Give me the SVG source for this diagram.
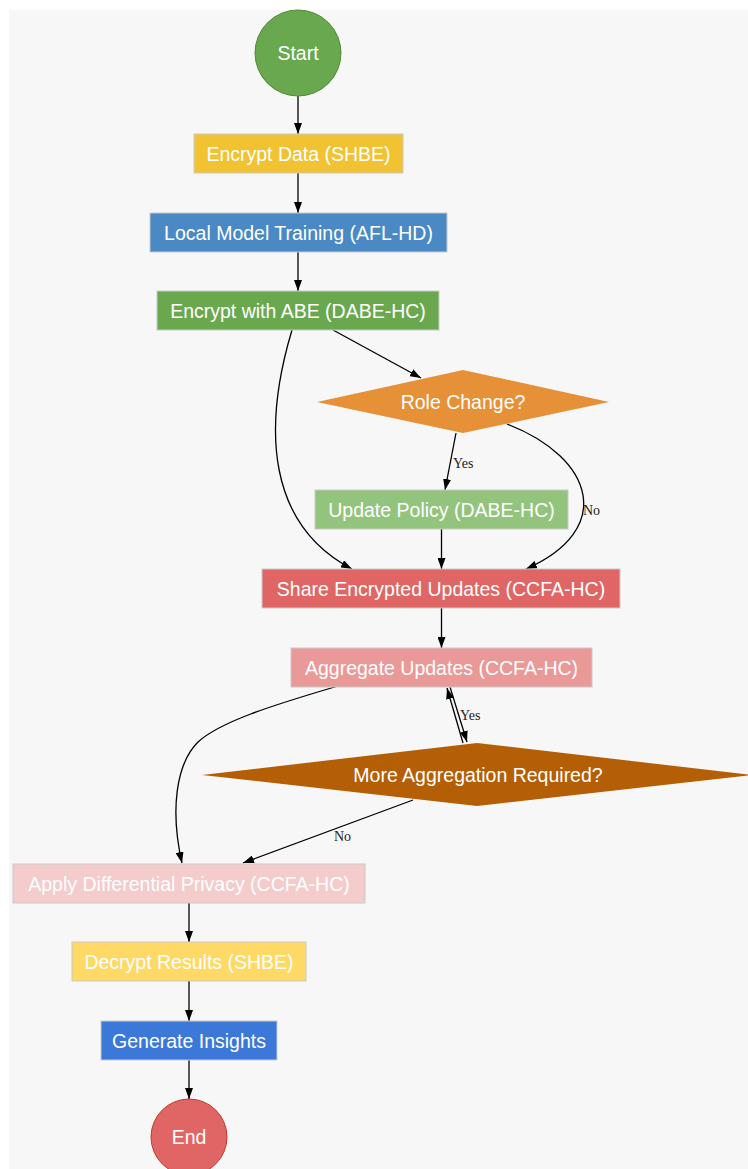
<svg xmlns="http://www.w3.org/2000/svg" width="748" height="1169" viewBox="0 0 748 1169">
<defs>
<marker id="arr" markerUnits="userSpaceOnUse" markerWidth="11" markerHeight="8" refX="11" refY="4" orient="auto">
<path d="M0,0 L11,4 L0,8 z" fill="#000"/>
</marker>
<style>
.n{font-family:"Liberation Sans",Arial,sans-serif;font-size:19.5px;fill:#fff;text-anchor:middle;dominant-baseline:central}
.box{stroke:#c9c9c9;stroke-width:1}
.e{fill:none;stroke:#000;stroke-width:1.3;marker-end:url(#arr)}
.lbl{font-family:"Liberation Serif","Times New Roman",serif;font-size:14px;fill:#222}
</style>
</defs>
<rect x="0" y="0" width="748" height="1169" fill="#fff"/>
<rect x="9" y="10" width="739" height="1159" fill="#f7f7f7"/>
<g id="connectors">
<path class="e" d="M298,96 L298,134"/>
<path class="e" d="M298,173 L298,213"/>
<path class="e" d="M298,252 L298,291"/>
<path class="e" d="M333,330 L421,378"/>
<path class="e" d="M292,330 C262,430 268,525 352,569"/>
<path class="e" d="M456,433 L445,490"/>
<text class="lbl" x="453" y="468">Yes</text>
<path class="e" d="M507,424 C595,458 615,530 526,569"/>
<text class="lbl" x="583" y="515">No</text>
<path class="e" d="M441.5,529 L441.5,569"/>
<path class="e" d="M441.5,608 L441.5,648"/>
<path class="e" d="M463,743 L447,688"/>
<path class="e" d="M450,687 L467,742"/>
<text class="lbl" x="460" y="720">Yes</text>
<path class="e" d="M338,686 C270,706 220,722 198,742 C176,764 170,810 182,863"/>
<path class="e" d="M413,800 L243,863"/>
<text class="lbl" x="334" y="841">No</text>
<path class="e" d="M189,903 L189,942"/>
<path class="e" d="M189,981 L189,1021"/>
<path class="e" d="M189,1060 L189,1099"/>
</g>
<g id="start">
<circle cx="298" cy="53" r="43" fill="#6aa84f" stroke="#4e8b36" stroke-width="1"/>
<text class="n" x="298" y="53">Start</text>
</g>
<g id="encrypt-data">
<rect class="box" x="194" y="134" width="209" height="39" fill="#f1c232"/>
<text class="n" x="298.5" y="154">Encrypt Data (SHBE)</text>
</g>
<g id="local-training">
<rect class="box" x="150" y="213" width="297" height="39" fill="#4a89c4"/>
<text class="n" x="298.5" y="233">Local Model Training (AFL-HD)</text>
</g>
<g id="encrypt-abe">
<rect class="box" x="157" y="291" width="282" height="39" fill="#6aa84f"/>
<text class="n" x="298" y="311">Encrypt with ABE (DABE-HC)</text>
</g>
<g id="role-change">
<polygon points="317,402 463,370 609,402 463,433" fill="#e69138"/>
<text class="n" x="463" y="402">Role Change?</text>
</g>
<g id="update-policy">
<rect class="box" x="315" y="490" width="253" height="39" fill="#93c47d"/>
<text class="n" x="441.5" y="510">Update Policy (DABE-HC)</text>
</g>
<g id="share-updates">
<rect class="box" x="262" y="569" width="358" height="39" fill="#e06666"/>
<text class="n" x="441" y="589">Share Encrypted Updates (CCFA-HC)</text>
</g>
<g id="aggregate">
<rect class="box" x="291" y="648" width="301" height="39" fill="#ea9999"/>
<text class="n" x="441.5" y="668">Aggregate Updates (CCFA-HC)</text>
</g>
<g id="more-aggregation">
<polygon points="202,775 477,743 752,775 477,806" fill="#b45f06"/>
<text class="n" x="478" y="775">More Aggregation Required?</text>
</g>
<g id="differential-privacy">
<rect class="box" x="13" y="864" width="352" height="39" fill="#f4cccc"/>
<text class="n" x="189" y="884">Apply Differential Privacy (CCFA-HC)</text>
</g>
<g id="decrypt">
<rect class="box" x="72" y="942" width="234" height="39" fill="#ffd966"/>
<text class="n" x="189" y="962">Decrypt Results (SHBE)</text>
</g>
<g id="insights">
<rect class="box" x="101" y="1021" width="176" height="39" fill="#3c78d8"/>
<text class="n" x="189" y="1041">Generate Insights</text>
</g>
<g id="end">
<circle cx="189" cy="1137" r="38" fill="#e06666" stroke="#c0392b" stroke-width="1"/>
<text class="n" x="189" y="1137">End</text>
</g>
</svg>
